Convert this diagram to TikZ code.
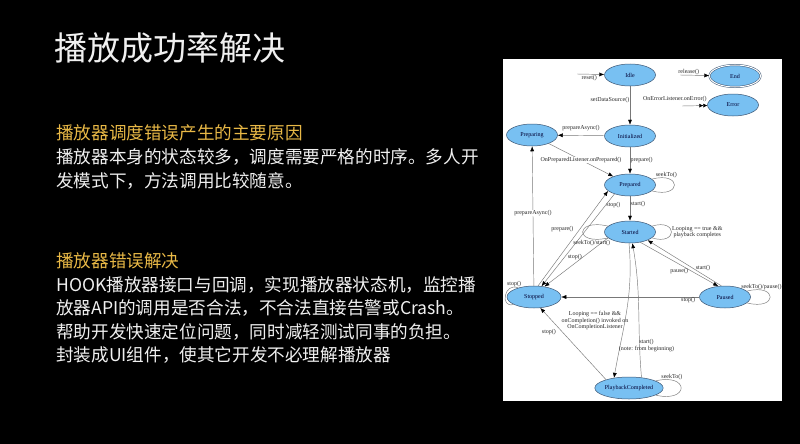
\documentclass[tikz,border=0pt]{standalone}
\usepackage{fontspec}
\setmainfont{Liberation Serif}
\newfontfamily\cjk{Noto Sans CJK SC}
\usetikzlibrary{shapes.geometric, arrows.meta}
\definecolor{CBlue}{RGB}{120,192,242}
\definecolor{CRim}{RGB}{60,85,115}
\definecolor{CGold}{RGB}{232,184,70}
\definecolor{CLine}{RGB}{120,120,120}
\definecolor{CText}{RGB}{240,240,240}
\tikzset{
    stnode/.style={ellipse, draw=CRim, fill=CBlue, line width=0.5pt,
        minimum width=51pt, minimum height=22pt, inner sep=0pt,
        font=\fontsize{6}{7}\selectfont, text=black!80!blue},
    trans/.style={draw=CLine, line width=0.45pt,
        -{Latex[length=5pt, width=4pt, color=black]}},
    selfloop/.style={draw=CLine, line width=0.45pt},
    lbl/.style={font=\fontsize{6}{6.6}\selectfont, inner sep=0.5pt, text=black!85},
    heading/.style={anchor=west, inner sep=0pt, text=CGold, font=\cjk\fontsize{17.6}{17.6}\selectfont},
    body/.style={anchor=west, inner sep=0pt, text=CText, font=\cjk\fontsize{17.6}{17.6}\selectfont},
}
\begin{document}
\begin{tikzpicture}[x=1pt, y=-1pt]
    \useasboundingbox (0, 0) rectangle (800, 444);
    \fill [black] (0, 0) rectangle (800, 444);

    % text on the left
    \node [anchor=west, inner sep=0pt, text=CText, font=\cjk\fontsize{33}{33}\selectfont] (title) at (54, 48) {播放成功率解决};

    \node [heading] (cause)  at (56, 133) {播放器调度错误产生的主要原因};
    \node [body]    (cause1) at (56, 157) {播放器本身的状态较多，调度需要严格的时序。多人开};
    \node [body]    (cause2) at (56, 181) {发模式下，方法调用比较随意。};

    \node [heading] (fix)  at (56, 261) {播放器错误解决};
    \node [body]    (fix1) at (56, 284.5) {HOOK播放器接口与回调，实现播放器状态机，监控播};
    \node [body]    (fix2) at (56, 308) {放器API的调用是否合法，不合法直接告警或Crash。};
    \node [body]    (fix3) at (56, 331.5) {帮助开发快速定位问题，同时减轻测试同事的负担。};
    \node [body]    (fix4) at (56, 355) {封装成UI组件，使其它开发不必理解播放器};

    % state diagram
    \fill [white] (503, 59) rectangle (782, 401);

    \node [stnode] (idle)        at (630, 75)  {Idle};
    \node [stnode, double=white, double distance=1pt] (endst) at (735, 76) {End};
    \node [stnode] (error)       at (733, 105) {Error};
    \node [stnode] (preparing)   at (532, 135) {Preparing};
    \node [stnode] (initialized) at (630, 136) {Initialized};
    \node [stnode] (prepared)    at (630, 185) {Prepared};
    \node [stnode] (started)     at (630, 232) {Started};
    \node [stnode, minimum width=54pt] (stopped) at (534, 297) {Stopped};
    \node [stnode] (paused)      at (725, 297) {Paused};
    \node [stnode, minimum width=52pt] (playback) at (629, 388) {PlaybackCompleted};

    \coordinate (resetin)   at (577, 74);
    \coordinate (releasein) at (680, 75);
    \coordinate (errorin)   at (682, 106);

    \draw [trans] (resetin) -- (idle) node [lbl, pos=.45, below] (lreset) {reset()};
    \draw [trans] (releasein) -- (endst) node [lbl, pos=.3, above] (lrelease) {release()};
    \draw [trans, -{Latex[length=4pt, width=4pt, color=black]Latex[length=4pt, width=4pt, color=black]}]
        (errorin) -- (error) node [lbl, pos=1, anchor=south east, yshift=3pt] (lerror) {OnErrorListener.onError()};

    \draw [trans] (idle) -- (initialized) node [lbl, pos=.35, left] (lsource) {setDataSource()};
    \draw [trans] (initialized) -- (preparing) node [lbl, midway, above=4pt] (lasync) {prepareAsync()};
    \draw [trans] (initialized) -- (prepared) node [lbl, midway, right] (lprepare) {prepare()};
    \draw [trans] (preparing) -- (prepared) node [lbl, pos=.5, fill=white] (lonprep) {OnPreparedListener.onPrepared()};
    \draw [trans] (prepared) -- (started) node [lbl, pos=.3, right] (lstart) {start()};

    \draw [trans] (stopped.70) -- (prepared.195) node [lbl, pos=.6, left=6pt] (lreprep) {prepare()};
    \draw [trans] (prepared.210) -- (stopped.55) node [lbl, pos=.12, right] (lstop1) {stop()};
    \draw [trans] (started.195) -- (stopped.45) node [lbl, pos=.4, left] (lstop2) {stop()};
    \draw [trans] (stopped) -- (preparing) node [lbl, pos=.52, fill=white] (lreasync) {prepareAsync()};

    \draw [trans] (started.315) -- (paused.122) node [lbl, pos=.5, below=3pt] (lpause) {pause()};
    \draw [trans] (paused.108) -- (started.335) node [lbl, pos=.25, above=3pt] (lresume) {start()};
    \draw [trans] (paused) -- (stopped) node [lbl, pos=.08, below] (lstop3) {stop()};

    \draw [trans] (started.265) to [out=-85, in=80]
        node [lbl, pos=.58, anchor=east, xshift=4pt, align=center] (lcomplete)
        {Looping == false \&\&\\onCompletion() invoked on\\OnCompletionListener} (playback.146);
    \draw [trans] (playback.40) to [out=95, in=-80]
        node [lbl, pos=.22, xshift=7pt, align=center] (lrestart) {start()\\(note: from beginning)} (started.282);
    \draw [trans] (playback.160) -- (stopped.-60) node [lbl, pos=.66, left=6pt] (lstop4) {stop()};

    % self loops
    \draw [selfloop] (prepared.15) .. controls +(30, -8) and +(30, 8) .. (prepared.-15)
        node [lbl, pos=.2, above] (lseek1) {seekTo()};
    \draw [selfloop] (started.165) .. controls +(-34, -8) and +(-34, 8) .. (started.195)
        node [lbl, pos=.8, below=1pt] (lseek2) {seekTo()/start()};
    \draw [selfloop] (started.15) .. controls +(26, -8) and +(26, 8) .. (started.-15)
        node [lbl, pos=.5, right, align=center] (lloop) {Looping == true \&\&\\playback completes};
    \draw [selfloop] (stopped.150) .. controls +(-14, -6) and +(-14, 4) .. (stopped.200)
        node [lbl, pos=0, anchor=south, xshift=-4pt] (lstop5) {stop()};
    \draw [selfloop] (paused.15) .. controls +(31, -8) and +(31, 8) .. (paused.-15)
        node [lbl, pos=.25, above, xshift=-3pt] (lseek3) {seekTo()/pause()};
    \draw [selfloop] (playback.15) .. controls +(34, -8) and +(34, 8) .. (playback.-15)
        node [lbl, pos=.2, above] (lseek4) {seekTo()};
\end{tikzpicture}
\end{document}
